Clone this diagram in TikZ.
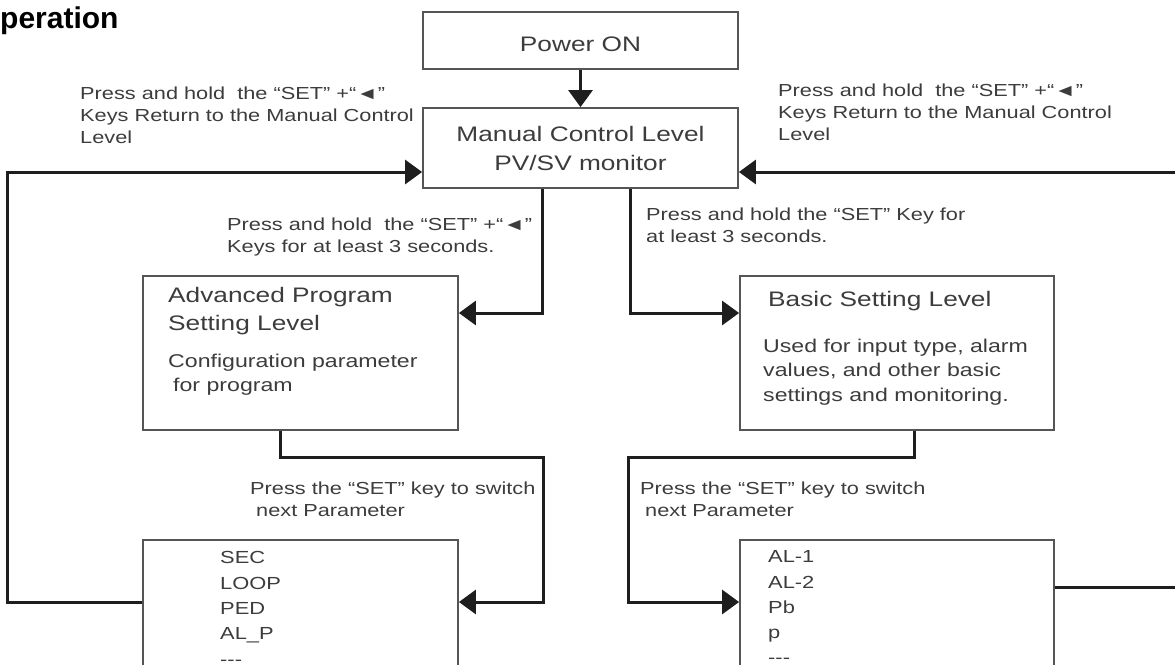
\documentclass[tikz,border=0pt]{standalone}
\usepackage{fontspec}
\setmainfont{Liberation Sans}[FakeStretch=1.25]
\newfontfamily\plainfont{Liberation Sans}
\usepackage{xcolor}
\usepackage{tikz}
\usetikzlibrary{arrows.meta}

\definecolor{inkgray}{HTML}{3C3C3C}
\definecolor{linegray}{HTML}{1E1E1E}
\definecolor{boxgray}{HTML}{555555}

\tikzset{
  box/.style={draw=boxgray, line width=1.8pt, inner sep=0pt, text=inkgray},
  heading/.style={anchor=base west, inner sep=0pt, font=\plainfont\bfseries\fontsize{30}{32}\selectfont},
  head/.style={anchor=north west, inner sep=0pt, align=left, text=inkgray, font=\fontsize{21}{28}\selectfont},
  body/.style={anchor=north west, inner sep=0pt, align=left, text=inkgray, font=\fontsize{18.5}{24.5}\selectfont},
  params/.style={anchor=north west, inner sep=0pt, align=left, text=inkgray, font=\fontsize{17.5}{25.3}\selectfont},
  note/.style={anchor=north west, inner sep=0pt, align=left, text=inkgray, font=\fontsize{17.4}{22}\selectfont},
  link/.style={draw=linegray, line width=3pt, ->}
}

\begin{document}
\begin{tikzpicture}[x=1pt, y=-1pt, >={Triangle[length=17pt, width=24pt]}]
    \useasboundingbox (0,0) rectangle (1175,664);

    % Cut-off heading at the top left
    \node[heading] (title) at (0,28) {peration};

    % Level boxes (the two lower ones run past the bottom edge)
    \node[box, minimum width=315pt, minimum height=57pt, text height=23pt, font=\fontsize{21}{28}\selectfont] (power) at (580.5,40.5) {Power ON};
    \node[box, minimum width=315pt, minimum height=80pt, align=center, font=\fontsize{21}{29}\selectfont] (manual) at (580.5,148) {Manual Control Level\\PV/SV monitor};
    \node[box, minimum width=315pt, minimum height=154pt] (advanced) at (300.5,353) {};
    \node[box, minimum width=314pt, minimum height=154pt] (basic) at (897,353) {};
    \node[box, minimum width=315pt, minimum height=160pt] (seclist) at (300.5,620) {};
    \node[box, minimum width=314pt, minimum height=160pt] (allist) at (897,620) {};

    % Texts inside the boxes
    \node[head] (advtitle) at (168,286.7) {Advanced Program\\Setting Level};
    \node[body] (advtext) at (168,353.5) {Configuration parameter\\\hspace*{5pt}for program};
    \node[head] (basictitle) at (768,290.7) {Basic Setting Level};
    \node[body] (basictext) at (763,338.5) {Used for input type, alarm\\values, and other basic\\settings and monitoring.};
    \node[params] (secitems) at (220,551.5) {SEC\\LOOP\\PED\\AL\_P\\-{}-{}-};
    \node[params] (alitems) at (768,550.5) {AL-1\\AL-2\\Pb\\p\\-{}-{}-};

    % Notes along the connectors
    \node[note] (backleft) at (80,86.6) {Press and hold\ \ the ``SET'' +``◄''\\Keys Return to the Manual Control\\Level};
    \node[note] (backright) at (778,83.6) {Press and hold\ \ the ``SET'' +``◄''\\Keys Return to the Manual Control\\Level};
    \node[note] (toadv) at (227,217.6) {Press and hold\ \ the ``SET'' +``◄''\\Keys for at least 3 seconds.};
    \node[note] (tobasic) at (646,207.6) {Press and hold the ``SET'' Key for\\at least 3 seconds.};
    \node[note] (nextleft) at (250,481.6) {Press the ``SET'' key to switch\\\hspace*{6pt}next Parameter};
    \node[note] (nextright) at (640,481.6) {Press the ``SET'' key to switch\\\hspace*{5pt}next Parameter};

    % Connectors between the levels
    \draw[link] (power) -- (manual);
    \draw[link] ([xshift=-38.5pt]manual.south) |- ([yshift=40pt]advanced.east);
    \draw[link] ([xshift=49.5pt]manual.south) |- ([yshift=40pt]basic.west);
    \draw[link] ([xshift=-20.5pt]advanced.south) |- (543,457) |- ([yshift=18pt]seclist.east);
    \draw[link] ([xshift=17pt]basic.south) |- (628,457) |- ([yshift=18pt]allist.west);

    % Return paths to the manual control level
    \draw[link] ([yshift=18pt]seclist.west) -- ++(-135,0) |- ([yshift=-24pt]manual.west);
    \draw[link] ([yshift=33pt]allist.east) -- (1182,587) |- ([yshift=-24pt]manual.east);

\end{tikzpicture}
\end{document}
